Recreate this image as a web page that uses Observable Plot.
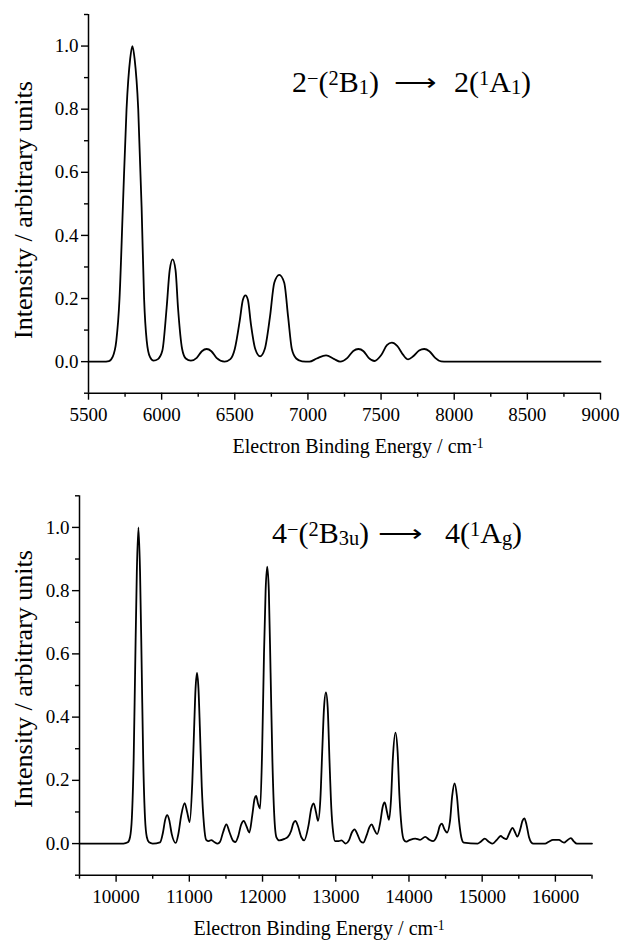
<!DOCTYPE html>
<html><head><meta charset="utf-8">
<script src="https://cdn.jsdelivr.net/npm/d3@7"></script>
<script src="https://cdn.jsdelivr.net/npm/@observablehq/plot@0.6"></script>
<style>
body{margin:0;background:#fff;}
#wrap{position:relative;width:620px;height:943px;overflow:hidden;}
#wrap svg{position:absolute;left:0;display:block;}
</style></head><body><div id="wrap"></div>
<script>
// ---- data (energy in cm-1, relative intensity) ----
const topSpectrum = [
 [5500,0],[5600,0],[5640,0.002],[5665,0.015],[5690,0.066],[5712,0.2],[5735,0.49],[5760,0.8],[5785,0.96],[5800,1.0],
 [5815,0.96],[5840,0.8],[5863,0.49],[5880,0.2],[5898,0.066],[5920,0.015],[5945,0.003],[5975,0.008],[6005,0.035],[6034,0.17],
 [6055,0.29],[6075,0.324],[6095,0.29],[6112,0.17],[6140,0.04],[6165,0.01],[6200,0.003],[6240,0.012],[6275,0.033],[6308,0.04],
 [6340,0.033],[6375,0.012],[6430,0],[6470,0.008],[6500,0.04],[6534,0.13],[6555,0.195],[6573,0.21],[6590,0.195],[6610,0.12],
 [6640,0.04],[6673,0.017],[6705,0.04],[6740,0.14],[6770,0.25],[6804,0.275],[6838,0.25],[6865,0.14],[6890,0.04],[6920,0.01],
 [6960,0.001],[7010,0],[7060,0.01],[7124,0.02],[7180,0.008],[7220,0],[7270,0.012],[7310,0.034],[7345,0.04],[7380,0.033],
 [7415,0.012],[7455,0.002],[7500,0.02],[7540,0.052],[7574,0.06],[7610,0.05],[7650,0.022],[7685,0.007],[7720,0.017],[7760,0.035],
 [7795,0.04],[7830,0.033],[7870,0.012],[7910,0.001],[7950,0],[9000,0]
];
const bottomSpectrum = [
 [9500,0],[10100,0],[10160,0.004],[10190,0.02],[10215,0.08],[10240,0.27],[10260,0.55],[10283,0.86],[10305,1.0],[10327,0.86],
 [10350,0.55],[10370,0.27],[10395,0.08],[10420,0.02],[10450,0.004],[10500,0],[10600,0.004],[10640,0.035],[10670,0.075],[10698,0.09],
 [10725,0.075],[10760,0.03],[10815,0.002],[10850,0.03],[10890,0.09],[10936,0.128],[10970,0.1],[11005,0.068],[11040,0.19],[11065,0.36],
 [11085,0.49],[11105,0.54],[11125,0.49],[11145,0.36],[11170,0.18],[11200,0.06],[11230,0.012],[11265,0.008],[11300,0.011],[11340,0.005],
 [11386,0],[11420,0.006],[11460,0.035],[11506,0.061],[11550,0.035],[11600,0.008],[11630,0.005],[11670,0.025],[11705,0.058],[11744,0.072],
 [11780,0.055],[11820,0.035],[11860,0.09],[11890,0.14],[11912,0.151],[11940,0.125],[11967,0.111],[11995,0.3],[12020,0.6],[12042,0.8],
 [12064,0.876],[12086,0.8],[12110,0.54],[12135,0.26],[12160,0.09],[12190,0.02],[12230,0.01],[12300,0.015],[12346,0.021],[12390,0.04],
 [12420,0.064],[12449,0.072],[12480,0.058],[12530,0.02],[12568,0.01],[12630,0.06],[12665,0.11],[12698,0.127],[12730,0.1],[12758,0.072],
 [12790,0.14],[12815,0.29],[12840,0.43],[12866,0.478],[12890,0.43],[12915,0.26],[12940,0.11],[12965,0.035],[12990,0.008],[13040,0.008],
 [13078,0.01],[13137,0],[13180,0.01],[13220,0.035],[13257,0.045],[13295,0.03],[13340,0.007],[13376,0.003],[13420,0.025],[13460,0.052],
 [13490,0.061],[13525,0.045],[13566,0.03],[13610,0.07],[13640,0.115],[13669,0.13],[13700,0.1],[13728,0.075],[13755,0.14],[13780,0.27],
 [13815,0.351],[13845,0.29],[13870,0.15],[13900,0.05],[13930,0.012],[13960,0.006],[14000,0.01],[14086,0.016],[14151,0.012],[14222,0.021],
 [14280,0.012],[14330,0.008],[14390,0.03],[14420,0.055],[14449,0.063],[14485,0.045],[14520,0.035],[14560,0.07],[14590,0.15],[14623,0.19],
 [14655,0.15],[14685,0.07],[14715,0.02],[14748,0.003],[14938,0],[14980,0.006],[15035,0.016],[15090,0.006],[15143,0],[15200,0.012],
 [15252,0.024],[15290,0.018],[15328,0.014],[15370,0.032],[15414,0.05],[15450,0.035],[15479,0.022],[15520,0.045],[15550,0.072],[15577,0.08],
 [15605,0.06],[15640,0.02],[15670,0.004],[15700,0],[15859,0],[15910,0.006],[15967,0.012],[16049,0.012],[16090,0.006],[16119,0.003],
 [16160,0.01],[16211,0.017],[16255,0.006],[16292,0],[16500,0]
];
const yMajorTicks = [0, 0.2, 0.4, 0.6, 0.8, 1.0];
const yMinorTicks = [-0.1, 0.1, 0.3, 0.5, 0.7, 0.9, 1.1];
const topXDomain = [5500, 9000];
const topXMajor = [5500, 6000, 6500, 7000, 7500, 8000, 8500, 9000];
const topXMinor = [5750, 6250, 6750, 7250, 7750, 8250, 8750];
const bottomXDomain = [9500, 16500];
const bottomXMajor = [10000, 11000, 12000, 13000, 14000, 15000, 16000];
const bottomXMinor = [9500, 10500, 11500, 12500, 13500, 14500, 15500, 16500];
const yTitle = "Intensity / arbitrary units";
const xTitle = "Electron Binding Energy / cm";
const xTitleSup = "-1";
const arrowGlyph = "\u27F6";
const topNoteLeft = [["2",""],["\u2212","sup"],["(",""],["2","sup"],["B",""],["1","sub"],[")",""]];
const topNoteRight = [["2(",""],["1","sup"],["A",""],["1","sub"],[")",""]];
const bottomNoteLeft = [["4",""],["\u2212","sup"],["(",""],["2","sup"],["B",""],["3u","sub"],[")",""]];
const bottomNoteRight = [["4(",""],["1","sup"],["A",""],["g","sub"],[")",""]];

const FONT = "'Liberation Serif', Tinos, 'Times New Roman', Times, 'DejaVu Serif', serif";

function addRich(sel, parts) {
  parts.forEach(([s, k]) => {
    const t = sel.append("tspan").text(s);
    if (k === "sup") t.attr("baseline-shift", "35%").attr("font-size", "68%");
    if (k === "sub") t.attr("baseline-shift", "-12%").attr("font-size", "68%");
  });
}

function chart(o) {
  const data = o.spectrum.map(([e, v]) => ({e, v}));
  const svg = Plot.plot({
    width: 620, height: o.height,
    marginLeft: o.ml, marginRight: o.mr, marginTop: o.mt, marginBottom: o.mb,
    style: {fontFamily: FONT, fontSize: "19px", color: "#000", background: "transparent", overflow: "visible"},
    x: {domain: o.xDomain},
    y: {domain: [-0.1, 1.1]},
    marks: [
      Plot.axisY(yMajorTicks, {tickSize: 7, tickPadding: 3, strokeWidth: 1.4, tickFormat: d3.format(".1f"), label: null}),
      Plot.axisY(yMinorTicks, {tickSize: 4, strokeWidth: 1.4, tickFormat: () => "", label: null}),
      Plot.axisX(o.xMajor, {tickSize: 7, tickPadding: 7, strokeWidth: 1.4, tickFormat: d => String(d), label: null}),
      Plot.axisX(o.xMinor, {tickSize: 4, strokeWidth: 1.4, tickFormat: () => "", label: null}),
      Plot.ruleX([o.xDomain[0]], {strokeWidth: 1.5, stroke: "#000"}),
      Plot.ruleY([-0.1], {strokeWidth: 1.5, stroke: "#000"}),
      Plot.line(data, {x: "e", y: "v", curve: "monotone-x", stroke: "#000", strokeWidth: 1.8})
    ]
  });
  const s = d3.select(svg);
  s.append("text").attr("transform", `translate(${o.yTitleX},${o.yTitleY}) rotate(-90)`)
    .attr("text-anchor", "middle").attr("font-family", FONT).attr("font-size", 26).attr("fill", "#000")
    .text(yTitle);
  const xt = s.append("text").attr("x", o.xTitleX).attr("y", o.xTitleY).attr("text-anchor", "middle")
    .attr("font-family", FONT).attr("font-size", 20).attr("fill", "#000");
  addRich(xt, [[xTitle, ""], [xTitleSup, "sup"]]);
  // annotation: left part, long arrow, right part
  const g = s.append("g").attr("font-family", FONT).attr("font-size", 30).attr("fill", "#000").attr("text-anchor", "start");
  addRich(g.append("text").attr("x", o.noteX[0]).attr("y", o.noteY), o.noteLeft);
  g.append("text").attr("x", o.noteX[1]).attr("y", o.noteY - 1)
    .attr("textLength", o.arrowLen).attr("lengthAdjust", "spacingAndGlyphs")
    .attr("font-family", "'DejaVu Sans', sans-serif").attr("font-size", 24).attr("font-weight", 300)
    .text(arrowGlyph);
  addRich(g.append("text").attr("x", o.noteX[2]).attr("y", o.noteY), o.noteRight);
  svg.style.top = o.top + "px";
  return svg;
}

const wrap = document.getElementById("wrap");
wrap.appendChild(chart({
  spectrum: topSpectrum, xDomain: topXDomain, xMajor: topXMajor, xMinor: topXMinor,
  height: 470, top: 0, ml: 88, mr: 20, mt: 14, mb: 470 - 392.7,
  yTitleX: 32, yTitleY: 210, xTitleX: 358, xTitleY: 453,
  noteLeft: topNoteLeft, noteRight: topNoteRight, noteX: [292, 394, 454], arrowLen: 42, noteY: 92
}));
wrap.appendChild(chart({
  spectrum: bottomSpectrum, xDomain: bottomXDomain, xMajor: bottomXMajor, xMinor: bottomXMinor,
  height: 473, top: 470, ml: 79, mr: 28.5, mt: 25.3, mb: 473 - 404.7,
  yTitleX: 32, yTitleY: 679 - 470, xTitleX: 319, xTitleY: 465,
  noteLeft: bottomNoteLeft, noteRight: bottomNoteRight, noteX: [272, 378, 445], arrowLen: 44, noteY: 543 - 470
}));
</script></body></html>
